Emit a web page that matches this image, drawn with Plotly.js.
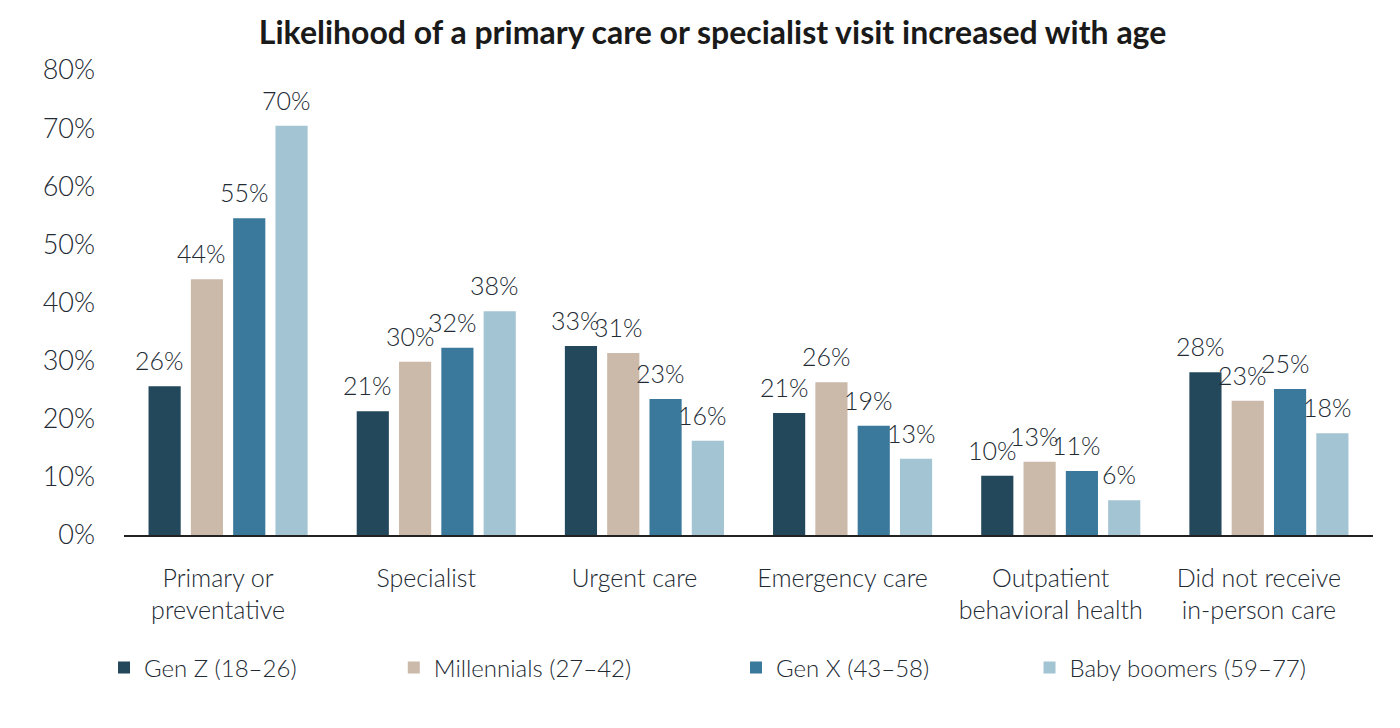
<!DOCTYPE html>
<html>
<head>
<meta charset="utf-8">
<script src="https://cdn.plot.ly/plotly-3.0.1.min.js"></script>
<style>html,body{margin:0;padding:0;background:#fff;}#chart{width:1400px;height:728px;}</style>
</head>
<body>
<div id="chart"></div>
<script>
const categories = ["Primary or<br>preventative", "Specialist", "Urgent care", "Emergency care", "Outpatient<br>behavioral health", "Did not receive<br>in-person care"];
const seriesNames = ["Gen Z (18–26)", "Millennials (27–42)", "Gen X (43–58)", "Baby boomers (59–77)"];
const genZ = [25.6, 21.3, 32.5, 21.0, 10.2, 28.0];
const millennials = [44.0, 29.8, 31.3, 26.3, 12.6, 23.1];
const genX = [54.5, 32.2, 23.4, 18.8, 11.0, 25.1];
const boomers = [70.4, 38.5, 16.2, 13.1, 6.0, 17.5];
const genZLabels = ["26%", "21%", "33%", "21%", "10%", "28%"];
const millennialsLabels = ["44%", "30%", "31%", "26%", "13%", "23%"];
const genXLabels = ["55%", "32%", "23%", "19%", "11%", "25%"];
const boomersLabels = ["70%", "38%", "16%", "13%", "6%", "18%"];
const yTickVals = [0, 10, 20, 30, 40, 50, 60, 70, 80];
const yTickText = ["0%", "10%", "20%", "30%", "40%", "50%", "60%", "70%", "80%"];

const colors = ["#23475b", "#cbb9aa", "#3a799b", "#a3c4d2"];
const values = [genZ, millennials, genX, boomers];
const labels = [genZLabels, millennialsLabels, genXLabels, boomersLabels];
const legendIds = ["legend", "legend2", "legend3", "legend4"];
const FONT = "Lato, 'Open Sans', sans-serif";
const TXT = "#222a33";

const traces = values.map((v, i) => ({
  type: "bar",
  x: categories,
  y: v,
  name: seriesNames[i],
  marker: {color: colors[i]},
  legend: legendIds[i],
  hoverinfo: "none"
}));

const slot = 42.3;
const annotations = [];
labels.forEach((arr, si) => {
  arr.forEach((t, ci) => {
    annotations.push({
      x: categories[ci], y: values[si][ci], xref: "x", yref: "y",
      text: t, showarrow: false,
      xshift: (si - 1.5) * slot - 5, yshift: 9,
      yanchor: "bottom", xanchor: "center",
      font: {family: FONT, size: 25, color: TXT, weight: 300}
    });
  });
});

const legendX = [-0.016, 0.216, 0.49, 0.725];
const legendBase = (x) => ({
  x: x, y: -0.286, xref: "paper", yref: "paper",
  xanchor: "left", yanchor: "middle",
  orientation: "h", bgcolor: "rgba(0,0,0,0)",
  font: {family: FONT, size: 24, color: TXT, weight: 300},
  itemclick: false, itemdoubleclick: false
});

const layout = {
  width: 1400, height: 728,
  margin: {l: 124, r: 27, t: 70, b: 193},
  paper_bgcolor: "#fff", plot_bgcolor: "#fff",
  title: {
    text: "<b>Likelihood of a primary care or specialist visit increased with age</b>",
    x: 0.509, xanchor: "center", y: 0.955, yanchor: "middle",
    font: {family: FONT, size: 32, color: "#1a1a1a"}
  },
  barmode: "group",
  bargap: 0.187,
  bargroupgap: 0.24,
  xaxis: {
    type: "category",
    showline: true, linecolor: "#222", linewidth: 1.5,
    showgrid: false, zeroline: false, ticks: "",
    tickfont: {family: FONT, size: 25, color: TXT, weight: 300},
    ticklabelstandoff: 20,
    ticklabelshift: -10,
    fixedrange: true
  },
  yaxis: {
    range: [0, 80],
    tickvals: yTickVals, ticktext: yTickText,
    showgrid: false, zeroline: false, showline: false, ticks: "",
    tickfont: {family: FONT, size: 27, color: TXT, weight: 300},
    ticklabelstandoff: 28,
    fixedrange: true
  },
  annotations: annotations,
  legend: legendBase(legendX[0]),
  legend2: legendBase(legendX[1]),
  legend3: legendBase(legendX[2]),
  legend4: legendBase(legendX[3]),
  showlegend: true
};

Plotly.newPlot("chart", traces, layout, {displayModeBar: false, staticPlot: true});
</script>
</body>
</html>
